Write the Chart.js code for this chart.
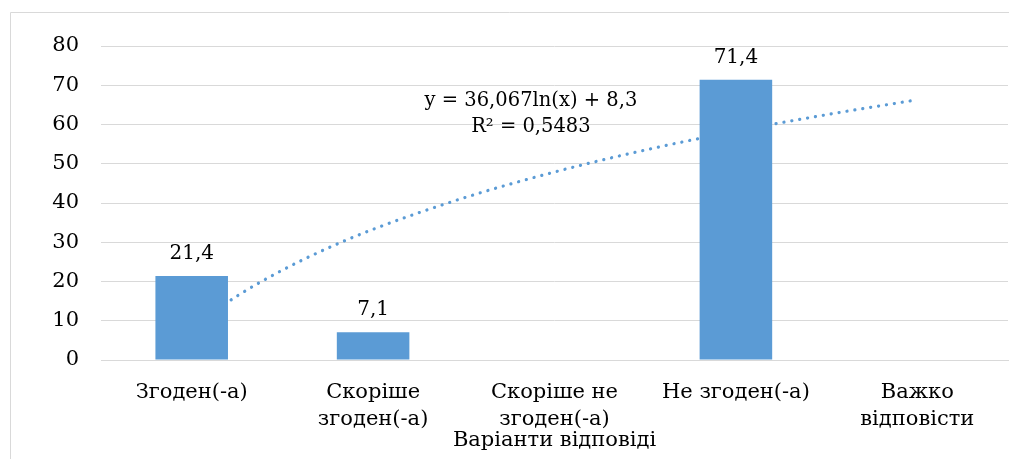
<!DOCTYPE html>
<html><head><meta charset="utf-8">
<script src="https://cdn.jsdelivr.net/npm/chart.js@4"></script>
<style>html,body{margin:0;padding:0;background:#fff}#wrap{width:1009px;height:459px;position:relative}</style>
</head><body><div id="wrap"><canvas id="c" width="1009" height="459"></canvas></div>
<script>
const categories = [["Згоден(-а)"], ["Скоріше", "згоден(-а)"], ["Скоріше не", "згоден(-а)"], ["Не згоден(-а)"], ["Важко", "відповісти"]];
const values = [21.4, 7.1, null, 71.4, null];
const trendX = [1, 1.25, 1.5, 1.75, 2, 2.5, 3, 3.5, 4, 4.5, 5];
const trendY = [8.3, 16.3, 22.9, 28.5, 33.3, 41.3, 47.9, 53.5, 58.3, 62.5, 66.3];
const trendText = ["y = 36,067ln(x) + 8,3", "R² = 0,5483"];
const axisTitle = "Варіанти відповіді";
const yTicks = [0, 10, 20, 30, 40, 50, 60, 70, 80];

const FONT = "'DejaVu Serif', serif";
const BLUE = '#5B9BD5';
const GRID = '#d9d9d9';

const extras = {
  id: 'extras',
  beforeDraw(chart) {
    const ctx = chart.ctx;
    ctx.save();
    ctx.strokeStyle = GRID; ctx.lineWidth = 1;
    ctx.beginPath();
    ctx.moveTo(10.5, 459); ctx.lineTo(10.5, 12.5); ctx.lineTo(1009, 12.5);
    ctx.stroke();
    ctx.restore();
  },
  afterDatasetsDraw(chart) {
    const ctx = chart.ctx;
    const meta = chart.getDatasetMeta(0);
    ctx.save();
    ctx.font = '20px ' + FONT;
    ctx.fillStyle = '#000';
    ctx.textAlign = 'center';
    ctx.textBaseline = 'alphabetic';
    meta.data.forEach((el, i) => {
      const v = values[i];
      if (v === null) return;
      ctx.fillText(String(v).replace('.', ','), el.x, el.y - 17);
    });
    const xs = chart.scales.xt, ys = chart.scales.y;
    const cx = xs.getPixelForValue(2.87);
    ctx.font = '19.5px ' + FONT;
    ctx.textBaseline = 'middle';
    ctx.fillText(trendText[0], cx, ys.getPixelForValue(66.0));
    ctx.fillText(trendText[1], cx, ys.getPixelForValue(59.3));
    ctx.restore();
  }
};

new Chart(document.getElementById('c'), {
  type: 'bar',
  data: {
    labels: categories,
    datasets: [
      { type: 'bar', data: values, backgroundColor: BLUE, barPercentage: 0.4, categoryPercentage: 1, grouped: false, order: 1, xAxisID: 'x', yAxisID: 'y' },
      { type: 'line', data: trendX.map((x, i) => ({x: x, y: trendY[i]})), xAxisID: 'xt', yAxisID: 'y',
        borderColor: BLUE, borderWidth: 3.2, borderDash: [0.1, 7.9], borderCapStyle: 'round',
        pointRadius: 0, tension: 0.4, cubicInterpolationMode: 'monotone', fill: false, order: 2 }
    ]
  },
  options: {
    responsive: false, animation: false,
    layout: { padding: { left: 0, right: 1, top: 46, bottom: 0 } },
    plugins: { legend: { display: false }, tooltip: { enabled: false } },
    scales: {
      x: {
        type: 'category', position: 'bottom', offset: true,
        grid: { display: false, drawTicks: false, offset: true },
        border: { display: true, color: GRID, width: 1 },
        ticks: { font: { family: FONT, size: 21, lineHeight: 1.24 }, color: '#000', padding: 20, maxRotation: 0, autoSkip: false },
        title: { display: true, text: axisTitle, font: { family: FONT, size: 21 }, color: '#000', padding: { top: 0, bottom: 6 } },
        afterFit(s) { s.height = 99; }
      },
      xt: { type: 'linear', display: false, offset: false, grid: { offset: false }, bounds: 'data', min: 0.5, max: 5.5 },
      y: {
        type: 'linear', min: 0, max: 80,
        afterBuildTicks(s) { s.ticks = yTicks.map(v => ({ value: v })); },
        grid: { color: GRID, lineWidth: 1, drawTicks: false },
        border: { display: false },
        ticks: { font: { family: FONT, size: 21 }, color: '#000', padding: 22 },
        afterFit(s) { s.width = 101; }
      }
    }
  },
  plugins: [extras]
});
</script></body></html>
